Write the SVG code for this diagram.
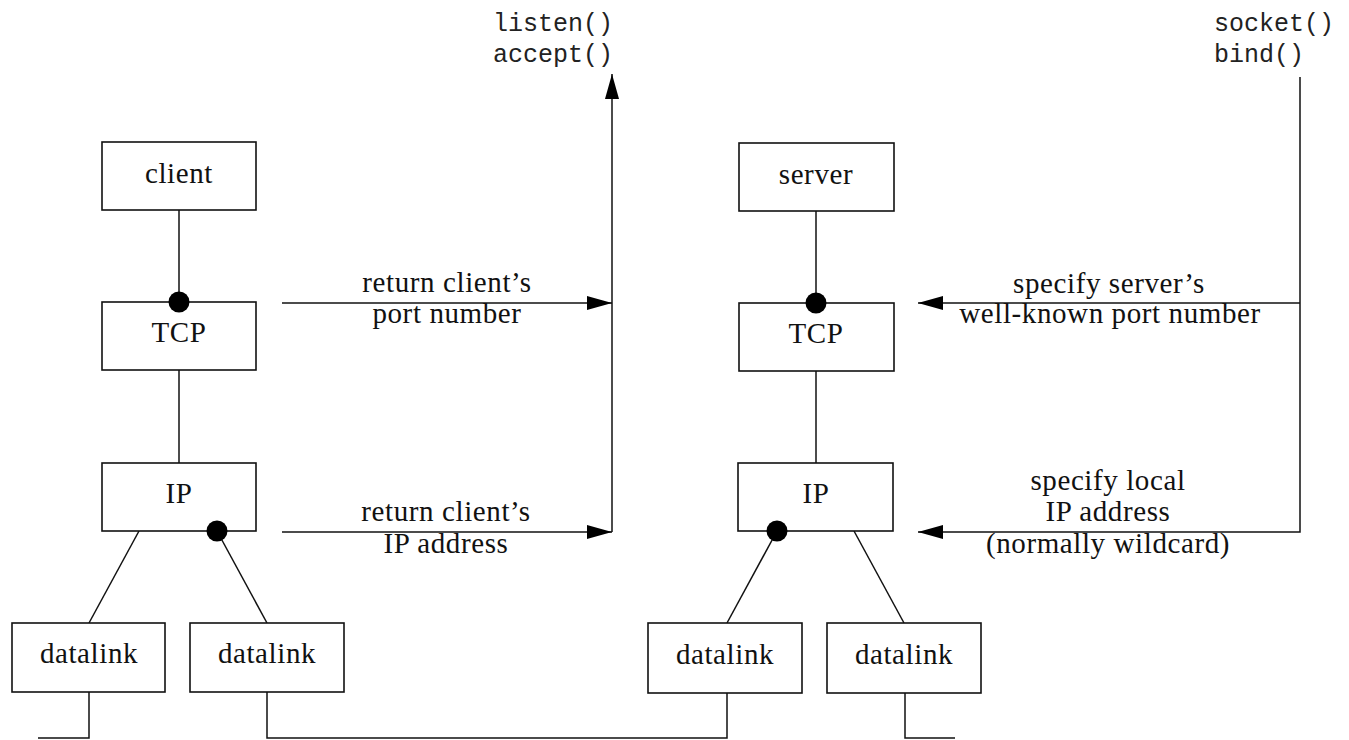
<svg xmlns="http://www.w3.org/2000/svg" width="1349" height="740" viewBox="0 0 1349 740">
<defs>
<style>
.box{fill:#fff;stroke:#111;stroke-width:1.6}
.ln{fill:none;stroke:#111;stroke-width:1.5}
.t{font-family:"Liberation Serif","Times New Roman",serif;font-size:29px;letter-spacing:0.6px;fill:#111;text-anchor:middle}
.m{font-family:"Liberation Mono","Courier New",monospace;font-size:25px;fill:#222}
.dot{fill:#000}
</style>
<marker id="ah" markerWidth="26" markerHeight="16" refX="25" refY="7" orient="auto" markerUnits="userSpaceOnUse">
<path d="M0,0 L25,7 L0,14 Z" fill="#000"/>
</marker>
</defs>
<rect width="1349" height="740" fill="#fff"/>
<g id="connectors">
<line class="ln" x1="179" y1="210" x2="179" y2="302"/>
<line class="ln" x1="179" y1="370" x2="179" y2="463"/>
<line class="ln" x1="139" y1="531" x2="89" y2="623"/>
<line class="ln" x1="217" y1="531" x2="267" y2="623"/>
<line class="ln" x1="816" y1="211" x2="816" y2="303"/>
<line class="ln" x1="816" y1="371" x2="816" y2="463"/>
<line class="ln" x1="777" y1="531" x2="727" y2="623"/>
<line class="ln" x1="854" y1="531" x2="904" y2="623"/>
<polyline class="ln" points="89,692 89,738 38,738"/>
<polyline class="ln" points="267,692 267,738 727,738 727,693"/>
<polyline class="ln" points="905,693 905,738 955,738"/>
<line class="ln" x1="282" y1="303" x2="612" y2="303" marker-end="url(#ah)"/>
<line class="ln" x1="282" y1="532" x2="612" y2="532" marker-end="url(#ah)"/>
<line class="ln" x1="612" y1="532" x2="612" y2="74" marker-end="url(#ah)"/>
<polyline class="ln" points="1300,77 1300,532 918,532" marker-end="url(#ah)"/>
<line class="ln" x1="1300" y1="303" x2="918" y2="303" marker-end="url(#ah)"/>
</g>
<g id="client"><rect class="box" x="102" y="142" width="154" height="68"/><text class="t" x="179" y="183">client</text></g>
<g id="client-tcp"><rect class="box" x="102" y="302" width="154" height="68"/><text class="t" x="179" y="342">TCP</text><circle class="dot" cx="179" cy="302" r="10.5"/></g>
<g id="client-ip"><rect class="box" x="102" y="463" width="154" height="68"/><text class="t" x="179" y="503">IP</text><circle class="dot" cx="217" cy="531" r="10.5"/></g>
<g id="client-dl1"><rect class="box" x="12" y="623" width="153" height="69"/><text class="t" x="89" y="663">datalink</text></g>
<g id="client-dl2"><rect class="box" x="190" y="623" width="154" height="69"/><text class="t" x="267" y="663">datalink</text></g>
<g id="server"><rect class="box" x="739" y="143" width="155" height="68"/><text class="t" x="816" y="184">server</text></g>
<g id="server-tcp"><rect class="box" x="739" y="303" width="155" height="68"/><text class="t" x="816" y="343">TCP</text><circle class="dot" cx="816" cy="303" r="10.5"/></g>
<g id="server-ip"><rect class="box" x="738" y="463" width="155" height="68"/><text class="t" x="816" y="503">IP</text><circle class="dot" cx="777" cy="531" r="10.5"/></g>
<g id="server-dl1"><rect class="box" x="648" y="623" width="154" height="70"/><text class="t" x="725" y="664">datalink</text></g>
<g id="server-dl2"><rect class="box" x="827" y="623" width="154" height="70"/><text class="t" x="904" y="664">datalink</text></g>
<g id="labels">
<text class="m" x="493" y="31">listen()</text>
<text class="m" x="493" y="62">accept()</text>
<text class="m" x="1214" y="31">socket()</text>
<text class="m" x="1214" y="62">bind()</text>
<text class="t" x="447" y="292">return client’s</text>
<text class="t" x="447" y="323">port number</text>
<text class="t" x="446" y="521">return client’s</text>
<text class="t" x="446" y="553">IP address</text>
<text class="t" x="1109" y="293">specify server’s</text>
<text class="t" x="1110" y="323">well-known port number</text>
<text class="t" x="1108" y="490">specify local</text>
<text class="t" x="1108" y="521">IP address</text>
<text class="t" x="1108" y="553">(normally wildcard)</text>
</g>
</svg>
